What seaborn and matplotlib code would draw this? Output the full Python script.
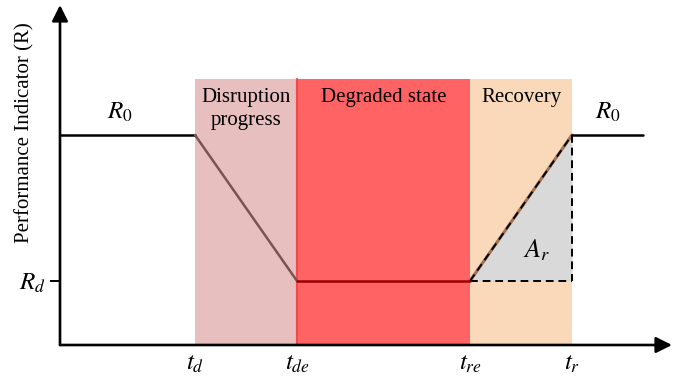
import matplotlib
matplotlib.use("Agg")
import matplotlib.pyplot as plt
import seaborn as sns
import numpy as np

# ---------------- data ----------------
t_labels = ["$t_d$", "$t_{de}$", "$t_{re}$", "$t_r$"]
t_points = [13.5, 23.7, 41.0, 51.2]       # t_d, t_de, t_re, t_r
t_end = 58.3                              # end of the drawn curve
R0 = 1.0
Rd = 0.305
band_top = 1.267
phase_names = ["Disruption\nprogress", "Degraded state", "Recovery"]
phase_colors = ["#e8bfbf", "#ff6363", "#fad8ba"]
ylabel = "Performance Indicator (R)"

td, tde, tre, tr = t_points

# ---------------- style ----------------
sns.set_theme(style="white")
plt.rcParams["font.family"] = ["Liberation Serif", "DejaVu Serif"]
plt.rcParams["mathtext.fontset"] = "stix"
plt.rcParams["text.color"] = "black"
plt.rcParams["axes.labelcolor"] = "black"
plt.rcParams["xtick.color"] = "black"
plt.rcParams["ytick.color"] = "black"

W, H = 681, 380
fig = plt.figure(figsize=(W / 100, H / 100), dpi=100)
ax = fig.add_axes([60 / W, 35 / H, 612 / W, 340 / H])
ax.set_xlim(0, 61.2)
ax.set_ylim(0, 1.619)
for s in ax.spines.values():
    s.set_visible(False)

# phase bands
edges = [td, tde, tre, tr]
for i, (name, col) in enumerate(zip(phase_names, phase_colors)):
    ax.bar(edges[i], band_top, width=edges[i + 1] - edges[i], bottom=0,
           align="edge", color=col, edgecolor="none", zorder=1)
# left edge highlight of degraded band
ax.plot([tde, tde], [0, band_top], color="#f24a4a", lw=1.6, zorder=1.5)

# recovery area
ax.fill_between([tre, tr], [Rd, R0], [Rd, Rd], color="#d9d9d9", lw=0, zorder=2)

# curve segments
sns.lineplot(x=[0, td], y=[R0, R0], color="black", lw=1.8, ax=ax, sort=False, zorder=5)
sns.lineplot(x=[td, tde], y=[R0, Rd], color="#7a5454", lw=1.8, ax=ax, sort=False, zorder=5)
sns.lineplot(x=[tde, tre], y=[Rd, Rd], color="#9a0000", lw=1.8, ax=ax, sort=False, zorder=5)
sns.lineplot(x=[tre, tr], y=[Rd, R0], color="#a07050", lw=2.2, ax=ax, sort=False, zorder=3)
sns.lineplot(x=[tr, t_end], y=[R0, R0], color="black", lw=1.8, ax=ax, sort=False, zorder=5)

# dashed outline of recovery area
dash = dict(color="black", lw=1.4, ls=(0, (4, 2.5)), zorder=4)
ax.plot([tre, tr], [Rd, R0], **dash)
ax.plot([tr, tr], [R0, Rd], **dash)
ax.plot([tre, tr], [Rd, Rd], **dash)

# axes with arrows
arrow = dict(arrowstyle="-|>", mutation_scale=24, lw=1.9, color="black",
             shrinkA=0, shrinkB=0)
ax.annotate("", xy=(0, 1), xytext=(0, 0), xycoords="axes fraction",
            textcoords="axes fraction", arrowprops=arrow, zorder=6)
ax.annotate("", xy=(1, 0), xytext=(0, 0), xycoords="axes fraction",
            textcoords="axes fraction", arrowprops=arrow, zorder=6)

# ticks
mfs = 18
ax.set_xticks(t_points)
ax.set_xticklabels(t_labels, fontsize=mfs)
ax.set_yticks([Rd])
ax.set_yticklabels(["$R_d$"], fontsize=mfs)
ax.tick_params(axis="x", length=0, pad=6)
ax.tick_params(axis="y", length=7, width=1.4, color="black", pad=3, left=True)
ax.set_ylabel(ylabel, fontsize=15)
ax.yaxis.set_label_coords(-0.042, 0.626)

# phase labels
fs = 15
ax.text((td + tde) / 2, 1.157, "Disruption", ha="center", va="baseline",
        fontsize=fs, zorder=7)
ax.text((td + tde) / 2, 1.048, "progress", ha="center", va="baseline",
        fontsize=fs, zorder=7)
ax.text((tde + tre) / 2, 1.157, phase_names[1], ha="center", va="baseline",
        fontsize=fs, zorder=7)
ax.text((tre + tr) / 2, 1.157, phase_names[2], ha="center", va="baseline",
        fontsize=fs, zorder=7)

# level labels
ax.text(6.0, 1.107, "$R_0$", ha="center", va="center", fontsize=mfs)
ax.text(54.8, 1.107, "$R_0$", ha="center", va="center", fontsize=mfs)
ax.text(47.7, 0.452, "$A_r$", ha="center", va="center", fontsize=19, zorder=7)

fig.savefig("out.png", dpi=100)
